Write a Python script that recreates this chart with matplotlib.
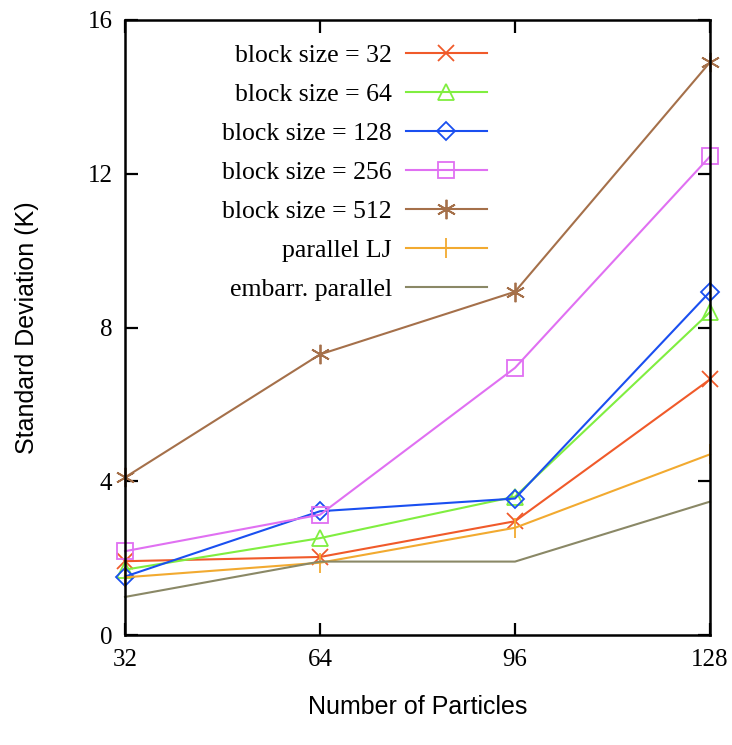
import numpy as np
import matplotlib as mpl
import matplotlib.pyplot as plt

# 数据
particles = [32, 64, 96, 128]
bs32 = [1.92, 2.03, 2.96, 6.65]
bs64 = [1.70, 2.52, 3.60, 8.40]
bs128 = [1.52, 3.22, 3.55, 8.93]
bs256 = [2.18, 3.13, 6.95, 12.45]
bs512 = [4.10, 7.30, 8.93, 14.90]
par_lj = [1.50, 1.88, 2.79, 4.70]
embarr = [0.99, 1.91, 1.91, 3.47]

labels = ["block size = 32", "block size = 64", "block size = 128",
          "block size = 256", "block size = 512", "parallel LJ", "embarr. parallel"]

plt.rcParams['font.family'] = ['Liberation Serif', 'DejaVu Serif']

fig = plt.figure(figsize=(7.32, 7.45), dpi=100)
ax = fig.add_axes([125 / 732, 1 - 635 / 745, 585 / 732, 615 / 745])

lw = 1.5
kw = dict(lw=lw, mew=1.3, clip_on=False)
ax.plot(particles, bs32, color="#f05a2a", marker="x", ms=12, label=labels[0], **kw)
ax.plot(particles, bs64, color="#80ee40", marker="^", ms=12, mfc="none", label=labels[1], **kw)
ax.plot(particles, bs128, color="#1a4ff0", marker="D", ms=9, mfc="none", label=labels[2], **kw)
ax.plot(particles, bs256, color="#e070f2", marker="s", ms=12, mfc="none", label=labels[3], **kw)
ax.plot(particles, bs512, color="#a5704a", marker=(6, 2, 0), ms=14, label=labels[4], **kw)
ax.plot(particles, par_lj, color="#f2aa30", marker="|", ms=14, label=labels[5], **kw)
ax.plot(particles, embarr, color="#8a8866", label=labels[6], **kw)

ax.set_xlim(32, 128)
ax.set_ylim(0, 16)
ax.set_xticks(particles)
ax.set_yticks([0, 4, 8, 12, 16])
ax.tick_params(direction="in", top=True, right=True, length=9, width=1.6,
               labelsize=18)
ax.tick_params(axis="y", pad=9)
ax.tick_params(axis="x", pad=10)
for s in ax.spines.values():
    s.set_linewidth(1.8)

ax.set_xlabel("Number of Particles", family="Liberation Sans", fontsize=18, labelpad=17)
ax.set_ylabel("Standard Deviation (K)", family="Liberation Sans", fontsize=18, labelpad=35)

leg = ax.legend(loc="upper right", bbox_to_anchor=(0.636, 0.977), frameon=False,
                markerfirst=False, fontsize=18.5, handlelength=3.15,
                labelspacing=0.62, handletextpad=0.55, borderaxespad=0)

fig.savefig("out.png", dpi=100)
